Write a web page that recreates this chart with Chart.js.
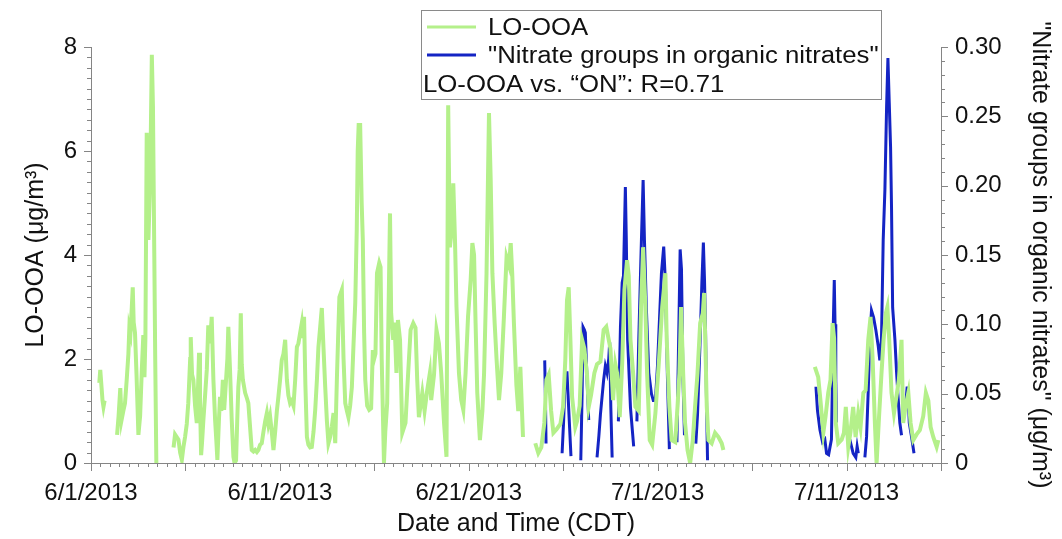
<!DOCTYPE html>
<html>
<head>
<meta charset="utf-8">
<script src="https://cdn.jsdelivr.net/npm/chart.js@4.4.1/dist/chart.umd.min.js"></script>
<style>
  html, body { margin: 0; padding: 0; background: #fff; }
  #wrap { width: 1062px; height: 539px; }
</style>
</head>
<body>
<div id="wrap"><canvas id="c" width="1062" height="539"></canvas></div>
<script>
// Time axis: days since 6/1/2013 00:00 CDT
const dateTickDays = [0, 10, 20, 30, 40];
const dateTickLabels = ['6/1/2013', '6/11/2013', '6/21/2013', '7/1/2013', '7/11/2013'];
const leftTicks = [0, 2, 4, 6, 8];
const rightTicks = [0, 0.05, 0.10, 0.15, 0.20, 0.25, 0.30];

// LO-OOA (µg/m3), null marks missing data
const ooaDay = [
  0.44, 0.49, 0.56, 0.61, 0.66, 0.72, 0.80,
  1.38, 1.46, 1.55, 1.62, 1.71, 1.80, 1.89, 1.98, 2.03, 2.09, 2.16, 2.21, 2.26, 2.33, 2.41, 2.51, 2.60, 2.69,
  2.77, 2.83, 2.88, 2.95, 2.99, 3.04, 3.14, 3.22, 3.28, 3.35, 3.40, 3.46, 3.80,
  4.37, 4.45, 4.54, 4.63, 4.72, 4.81, 4.89, 4.98, 5.07, 5.15, 5.25, 5.28, 5.35, 5.42, 5.51, 5.60, 5.67, 5.72,
  5.77, 5.83, 5.88, 5.95, 6.04, 6.13, 6.21, 6.30, 6.39, 6.48, 6.57, 6.64, 6.69, 6.77, 6.83, 6.90, 6.98, 7.05,
  7.15, 7.22, 7.27, 7.36, 7.45, 7.54, 7.60, 7.68, 7.74, 7.80, 7.87, 7.93, 7.98, 8.04, 8.16, 8.25, 8.33, 8.42,
  8.51, 8.60, 8.69, 8.78, 8.86, 8.95, 9.04, 9.13, 9.22, 9.31, 9.39, 9.48, 9.57, 9.66, 9.75, 9.84, 9.92, 10.01,
  10.10, 10.19, 10.28, 10.37, 10.45, 10.54, 10.63, 10.72, 10.81, 10.90, 10.98, 11.07, 11.16, 11.23, 11.28,
  11.35, 11.43, 11.51, 11.60, 11.69, 11.78, 11.87, 11.96, 12.04, 12.13, 12.22, 12.31, 12.40, 12.49, 12.57,
  12.66, 12.75, 12.84, 12.93, 13.02, 13.09, 13.15, 13.28, 13.37, 13.46, 13.55, 13.63, 13.72, 13.81, 13.90,
  13.99, 14.07, 14.12, 14.17, 14.25, 14.33, 14.39, 14.46, 14.52, 14.62, 14.73, 14.83, 14.92, 14.99, 15.06,
  15.14, 15.26, 15.33, 15.39, 15.51, 15.58, 15.68, 15.83, 15.89, 16.00, 16.07, 16.17, 16.25, 16.36, 16.48,
  16.65, 16.74, 16.92, 17.06, 17.18, 17.27, 17.36, 17.54, 17.66, 17.80, 17.94, 18.01, 18.16, 18.29, 18.42,
  18.54, 18.69, 18.82, 18.91, 19.00, 19.13, 19.18, 19.27, 19.35, 19.48, 19.60, 19.71, 19.83, 19.96, 20.10,
  20.19, 20.28, 20.36, 20.45, 20.59, 20.72, 20.81, 20.94, 21.07, 21.16, 21.25, 21.37, 21.47, 21.60, 21.72,
  21.86, 22.00, 22.13, 22.22, 22.30, 22.39, 22.52, 22.62, 22.73, 22.87, 23.20,
  23.52, 23.68, 23.84, 24.00, 24.11, 24.23, 24.36, 24.48, 24.65, 24.85, 24.99, 25.11, 25.20, 25.29, 25.38,
  25.47, 25.64, 25.73, 25.87, 26.00, 26.12, 26.26, 26.35, 26.47, 26.65, 26.79, 26.97, 27.14, 27.28, 27.41,
  27.50, 27.64, 27.76, 27.85, 27.99, 28.12, 28.24, 28.38, 28.47, 28.56, 28.70, 28.82, 29.00, 29.12, 29.23,
  29.35, 29.44, 29.58, 29.71, 29.88, 30.06, 30.24, 30.41, 30.48, 30.62, 30.74, 30.93, 31.05, 31.15, 31.24,
  31.35, 31.45, 31.58, 31.72, 31.86, 31.98, 32.11, 32.25, 32.39, 32.46, 32.53, 32.60, 32.69, 32.86, 33.04,
  33.22, 33.39, 33.48, 34.00,
  38.32, 38.50, 38.62, 38.77, 38.89, 39.03, 39.15, 39.26, 39.34, 39.43, 39.56, 39.74, 39.86, 39.96, 40.09,
  40.21, 40.35, 40.48, 40.62, 40.74, 40.89, 41.01, 41.15, 41.27, 41.38, 41.50, 41.59, 41.73, 41.85, 41.96,
  42.08, 42.16, 42.26, 42.38, 42.51, 42.65, 42.77, 42.91, 43.00, 43.13, 43.27, 43.39, 43.53, 43.71, 43.88,
  44.06, 44.20, 44.33, 44.45, 44.59, 44.77, 44.86
];
const ooaValue = [
  1.54, 1.79, 1.45, 1.20, 1.08, 1.20, null,
  0.54, 0.90, 1.44, 0.83, 1.00, 1.15, 1.60, 2.10, 2.60, 2.50, 3.00, 3.38, 2.70, 2.50, 1.70, 0.54, 0.90, 1.79,
  2.46, 1.65, 2.40, 6.35, 5.00, 4.29, 5.58, 7.85, 6.85, 4.04, 2.00, 0.00, null,
  0.30, 0.55, 0.50, 0.45, 0.20, 0.06, 0.30, 0.50, 0.75, 1.15, 2.00, 2.42, 1.70, 1.60, 1.10, 0.77, 1.50, 2.12,
  1.20, 0.15, 0.40, 0.83, 1.30, 1.79, 2.65, 2.30, 2.81, 1.60, 0.83, 0.40, 0.06, 0.80, 1.27, 1.00, 1.60, 1.02,
  1.60, 2.00, 2.62, 1.79, 0.83, 0.12, 0.00, 0.05, 0.80, 1.46, 1.80, 2.88, 1.90, 1.60, 1.35, 1.25, 1.15, 0.70,
  0.25, 0.22, 0.25, 0.21, 0.25, 0.35, 0.38, 0.60, 0.80, 0.96, 0.75, 0.90, 0.60, 0.25, 0.60, 1.00, 1.27, 1.60,
  1.98, 2.10, 2.37, 1.60, 1.30, 1.15, 1.20, 1.10, 1.60, 2.23, 2.30, 2.50, 2.69, 2.40, 2.81,
  1.50, 0.50, 0.35, 0.30, 0.31, 0.60, 1.02, 1.60, 2.23, 2.60, 2.98, 2.20, 1.46, 0.80, 0.38,
  0.50, 0.70, 0.96, 0.38, 1.65, 2.50, 3.19, 3.33, 2.00, 1.15, 1.00, 0.88, 1.10, 1.46, 2.30,
  3.08, 4.50, 6.00, 6.50, 6.50, 5.00, 4.29, 2.50, 1.60, 1.10, 1.02, 1.05, 2.17, 2.00, 2.10,
  3.65, 3.85, 3.77, 2.00, 0.00, 0.60, 1.15, 4.80, 2.88, 2.37, 2.70, 1.73, 2.75, 2.37, 0.58,
  0.77, 1.40, 2.56, 2.69, 2.60, 1.60, 0.88, 1.35, 1.00, 1.40, 1.73, 1.21, 1.70, 2.56, 2.30,
  1.73, 0.77, 0.12, 6.88, 4.15, 4.60, 5.38, 4.29, 3.00, 1.73, 1.21, 1.02, 1.73, 2.81, 3.52,
  4.23, 4.00, 2.69, 1.35, 0.44, 1.00, 1.73, 3.65, 6.73, 5.44, 3.65, 2.69, 2.00, 1.21, 1.73,
  2.81, 3.96, 3.80, 4.23, 3.65, 2.69, 1.50, 1.00, 1.85, 0.50, null,
  0.38, 0.19, 0.30, 0.77, 1.60, 1.70, 1.00, 0.58, 0.65, 0.75, 1.08, 1.98, 3.13, 3.38, 2.37,
  1.27, 0.69, 0.80, 1.10, 2.37, 2.20, 1.70, 1.08, 1.30, 1.73, 1.90, 1.95, 2.56, 2.62, 2.37,
  2.20, 1.21, 1.90, 1.73, 0.88, 1.90, 3.33, 3.90, 3.60, 2.37, 1.73, 1.08, 1.00, 3.00, 4.15,
  3.00, 1.73, 0.44, 0.35, 0.96, 1.92, 3.00, 3.65, 2.37, 1.08, 0.44, 0.40, 1.08, 1.73, 3.00,
  1.73, 0.77, 0.25, 0.00, 0.44, 1.08, 1.73, 2.69, 2.88, 3.27, 2.20, 1.08, 0.44, 0.38, 0.58,
  0.50, 0.38, 0.25, null,
  1.85, 1.65, 1.20, 0.58, 0.90, 1.35, 1.60, 2.69, 2.40, 0.77, 0.38, 0.45, 0.58, 1.08, 0.31,
  0.60, 1.08, 0.50, 0.96, 0.69, 1.35, 1.40, 2.37, 2.81, 2.00, 0.77, 0.00, 0.96, 1.73, 2.37,
  2.88, 3.00, 2.37, 1.35, 0.96, 1.30, 1.60, 2.37, 0.77, 1.10, 1.35, 0.77, 0.44, 0.55, 0.63,
  0.90, 1.35, 1.20, 0.69, 0.50, 0.31, 0.44
];

// Nitrate groups in organic nitrates (µg/m3), null marks missing data
const onDay = [
  24.02, 24.06, 24.09, 24.50,
  24.94, 25.02, 25.11, 25.20, 25.27, 25.34, 25.41, 25.70,
  25.93, 26.00, 26.05, 26.12, 26.17, 26.26, 26.35, 26.60,
  26.79, 26.89, 26.97, 27.14, 27.23, 27.32, 27.41, 27.46, 27.52, 27.59, 27.80,
  27.92, 28.03, 28.12, 28.19, 28.29, 28.34, 28.41, 28.56, 28.73, 28.80,
  28.90, 29.00, 29.12, 29.23, 29.30, 29.40, 29.53, 29.67, 29.77, 29.88, 29.99, 30.11, 30.20, 30.32, 30.41,
  30.52, 30.62, 30.80,
  31.02, 31.10, 31.19, 31.26, 31.34, 31.42, 31.60,
  32.02, 32.11, 32.25, 32.34, 32.42, 32.48, 32.53, 32.58, 32.64, 33.00,
  38.38, 38.46, 38.59, 38.73, 38.85, 38.94, 39.05, 39.13, 39.20, 39.26, 39.30, 39.35, 39.39, 39.43, 39.47, 39.80,
  40.17, 40.26, 40.35, 40.49, 40.56, 40.62, 40.90,
  40.97, 41.06, 41.15, 41.23, 41.32, 41.43, 41.55, 41.68, 41.76, 41.85, 41.94, 42.03, 42.12, 42.19, 42.26,
  42.33, 42.38, 42.44, 42.56, 42.65, 42.74, 42.82, 42.91, 43.05,
  43.15, 43.21, 43.29, 43.32, 43.45, 43.57
];
const onValue = [
  0.074, 0.045, 0.014, null,
  0.007, 0.030, 0.065, 0.065, 0.045, 0.025, 0.005, null,
  0.002, 0.050, 0.098, 0.096, 0.094, 0.060, 0.031, null,
  0.004, 0.020, 0.035, 0.060, 0.070, 0.065, 0.075, 0.087, 0.040, 0.004, null,
  0.030, 0.098, 0.130, 0.135, 0.199, 0.161, 0.089, 0.040, 0.012, null,
  0.030, 0.089, 0.151, 0.204, 0.161, 0.112, 0.065, 0.050, 0.045, 0.045, 0.070, 0.108, 0.137, 0.156, 0.130,
  0.060, 0.010, null,
  0.015, 0.080, 0.154, 0.140, 0.060, 0.020, null,
  0.014, 0.035, 0.089, 0.130, 0.159, 0.132, 0.100, 0.050, 0.002, null,
  0.055, 0.038, 0.024, 0.015, 0.017, 0.007, 0.006, 0.012, 0.017, 0.065, 0.101, 0.132, 0.100, 0.060, 0.029, null,
  0.017, 0.012, 0.007, 0.004, 0.012, 0.007, null,
  0.004, 0.019, 0.053, 0.089, 0.110, 0.105, 0.096, 0.084, 0.074, 0.090, 0.161, 0.197, 0.257, 0.292, 0.260,
  0.228, 0.185, 0.112, 0.089, 0.065, 0.045, 0.029, 0.020, null,
  0.045, 0.055, 0.040, 0.029, 0.018, 0.007
];

const GREEN = '#b4f08a';
const BLUE = '#1424c4';
const AXIS = '#858585';
const INK = '#111111';
const FONT = "'Liberation Sans', Arial, sans-serif";

const toPoints = (xs, ys) => xs.map((d, i) => ({ x: d, y: ys[i] }));

// Tick marks (major + minor) drawn along each scale
const tickMarks = {
  id: 'tickMarks',
  afterDraw(chart) {
    const { ctx, scales: { x, y, y1 } } = chart;
    ctx.save();
    ctx.strokeStyle = AXIS;
    ctx.lineWidth = 1;
    ctx.beginPath();
    for (let i = 0; i <= 90; i++) {
      const px = Math.round(x.getPixelForValue(i * 0.5)) + 0.5;
      const len = i % 10 === 0 ? 8 : 4;
      ctx.moveTo(px, x.top); ctx.lineTo(px, x.top + len);
    }
    for (let i = 0; i <= 40; i++) {
      const py = Math.round(y.getPixelForValue(i * 0.2)) + 0.5;
      const len = i % 10 === 0 ? 7 : 4;
      ctx.moveTo(y.right, py); ctx.lineTo(y.right - len, py);
    }
    for (let i = 0; i <= 30; i++) {
      const py = Math.round(y1.getPixelForValue(i * 0.01)) + 0.5;
      const len = i % 5 === 0 ? 7 : 4;
      ctx.moveTo(y1.left, py); ctx.lineTo(y1.left + len, py);
    }
    ctx.stroke();
    ctx.restore();
  }
};

// Boxed legend with the correlation note
const boxLegend = {
  id: 'boxLegend',
  afterDraw(chart) {
    const { ctx } = chart;
    const ds = chart.data.datasets;
    ctx.save();
    ctx.fillStyle = '#ffffff';
    ctx.fillRect(421, 10, 461, 90);
    ctx.strokeStyle = '#8a8a8a';
    ctx.lineWidth = 1;
    ctx.strokeRect(421.5, 10.5, 460, 89);
    const rows = [
      { color: ds[0].borderColor, text: ds[0].label, y: 35 },
      { color: ds[1].borderColor, text: ds[1].label, y: 63 }
    ];
    ctx.font = '23px ' + FONT;
    ctx.textBaseline = 'alphabetic';
    ctx.fillStyle = INK;
    const drawText = (t, tx, ty) => {
      ctx.save(); ctx.translate(tx, ty); ctx.scale(1.12, 1); ctx.fillText(t, 0, 0); ctx.restore();
    };
    rows.forEach(r => {
      ctx.strokeStyle = r.color;
      ctx.lineWidth = 3;
      ctx.beginPath();
      ctx.moveTo(427, r.y - 8); ctx.lineTo(476, r.y - 8);
      ctx.stroke();
      drawText(r.text, 488, r.y);
    });
    drawText('LO-OOA vs. \u201CON\u201D: R=0.71', 423, 92);
    ctx.restore();
  }
};

new Chart(document.getElementById('c'), {
  type: 'line',
  data: {
    datasets: [
      {
        label: 'LO-OOA',
        data: toPoints(ooaDay, ooaValue),
        yAxisID: 'y',
        borderColor: GREEN,
        borderWidth: 4,
        pointRadius: 0,
        spanGaps: false,
        tension: 0
      },
      {
        label: '"Nitrate groups in organic nitrates"',
        data: toPoints(onDay, onValue),
        yAxisID: 'y1',
        borderColor: BLUE,
        borderWidth: 3,
        pointRadius: 0,
        spanGaps: false,
        tension: 0
      }
    ]
  },
  options: {
    responsive: false,
    animation: false,
    devicePixelRatio: 1,
    layout: { padding: { top: 47, left: 0, right: 0, bottom: 0 } },
    plugins: { legend: { display: false }, tooltip: { enabled: false } },
    scales: {
      x: {
        type: 'linear',
        position: 'bottom',
        min: 0,
        max: 45,
        grid: { display: false, drawTicks: false },
        border: { display: true, color: AXIS, width: 1 },
        afterBuildTicks: s => { s.ticks = dateTickDays.map(v => ({ value: v })); },
        ticks: {
          autoSkip: false,
          maxRotation: 0,
          padding: 16,
          color: INK,
          font: { family: FONT, size: 24 },
          callback: v => dateTickLabels[dateTickDays.indexOf(v)]
        },
        title: {
          display: true,
          text: 'Date and Time (CDT)',
          color: INK,
          font: { family: FONT, size: 25 },
          padding: { top: 0, bottom: 0 }
        },
        afterFit: s => { s.height = 76; }
      },
      y: {
        type: 'linear',
        position: 'left',
        min: 0,
        max: 8,
        grid: { display: false, drawTicks: false },
        border: { display: true, color: AXIS, width: 1 },
        afterBuildTicks: s => { s.ticks = leftTicks.map(v => ({ value: v })); },
        ticks: {
          padding: 14,
          color: INK,
          font: { family: FONT, size: 24 },
          callback: v => String(v)
        },
        title: {
          display: true,
          text: 'LO-OOA (\u03BCg/m\u00B3)',
          color: INK,
          font: { family: FONT, size: 25 },
          padding: { top: 21, bottom: 0 }
        },
        afterFit: s => { s.width = 91; }
      },
      y1: {
        type: 'linear',
        position: 'right',
        min: 0,
        max: 0.3,
        grid: { display: false, drawTicks: false },
        border: { display: true, color: AXIS, width: 1 },
        afterBuildTicks: s => { s.ticks = rightTicks.map(v => ({ value: v })); },
        ticks: {
          padding: 14,
          color: INK,
          font: { family: FONT, size: 24 },
          callback: v => (v === 0 ? '0' : v.toFixed(2))
        },
        title: {
          display: true,
          text: '"Nitrate groups in organic nitrates" (\u03BCg/m\u00B3)',
          color: INK,
          font: { family: FONT, size: 25 },
          padding: { top: 7, bottom: 0 }
        },
        afterFit: s => { s.width = 121; }
      }
    }
  },
  plugins: [tickMarks, boxLegend]
});
</script>
</body>
</html>
